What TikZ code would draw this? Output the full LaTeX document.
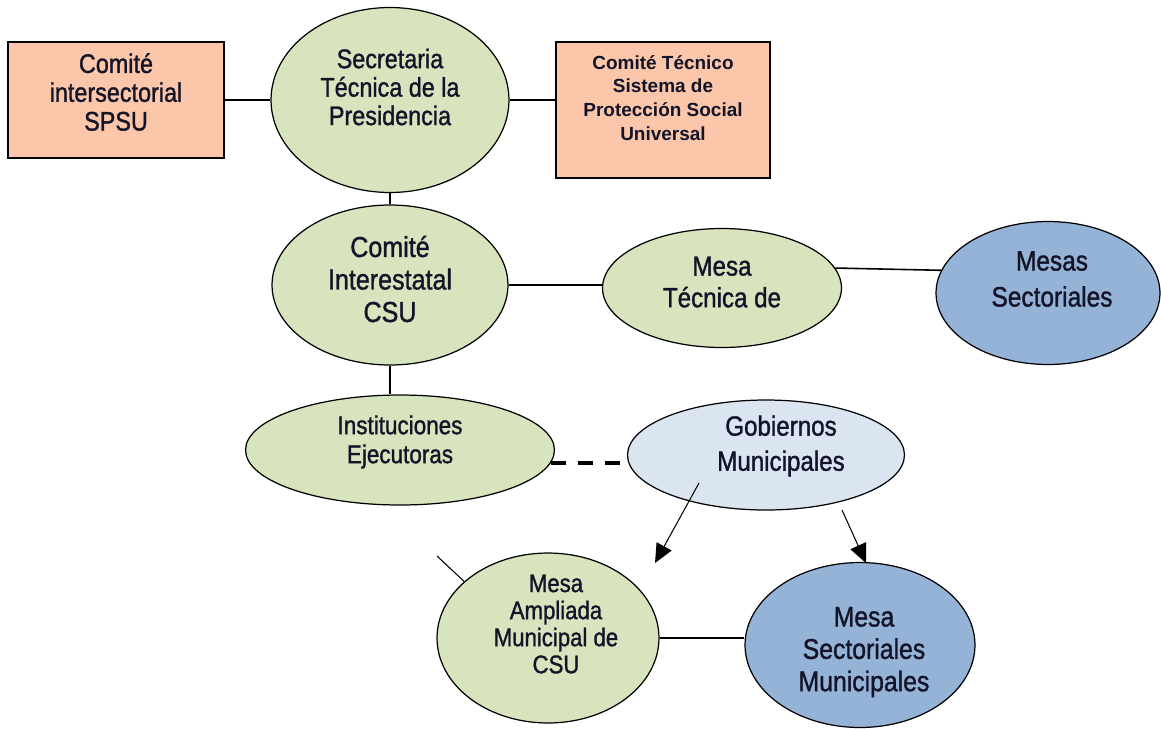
\documentclass[tikz,border=0pt]{standalone}
\usepackage{fontspec}
\setmainfont{Liberation Sans}[FakeStretch=0.87, FakeBold=1.2]
\newfontfamily\boxfont{Liberation Sans}
\usetikzlibrary{positioning}
\usetikzlibrary{shapes.geometric}
\usetikzlibrary{arrows.meta}
\definecolor{grnfill}{RGB}{215,228,189}
\definecolor{salfill}{RGB}{251,198,170}
\definecolor{bluefill}{RGB}{149,179,215}
\definecolor{palefill}{RGB}{219,229,241}
\definecolor{txtcol}{RGB}{20,20,40}

\begin{document}
\begin{tikzpicture}[x=0.02cm,y=-0.02cm,
    ell/.style={ellipse, draw, line width=0.7pt, inner sep=0pt},
    box/.style={rectangle, draw, line width=0.9pt, fill=salfill},
    lbl/.style={align=center, text=txtcol, inner sep=0pt},
    con/.style={line width=0.9pt}]
        \useasboundingbox (0,0) rectangle (1161,728);
        % nodes %
        \node[box, minimum width=4.32cm, minimum height=2.32cm] (csi) at (116,100) {};
        \node[ell, fill=grnfill, minimum width=4.76cm, minimum height=3.7cm] (sec) at (390,100) {};
        \node[box, minimum width=4.28cm, minimum height=2.72cm] (ctp) at (663,110) {};
        \node[ell, fill=grnfill, minimum width=4.72cm, minimum height=3.2cm] (cis) at (390,285) {};
        \node[ell, fill=grnfill, minimum width=4.78cm, minimum height=2.38cm] (mtec) at (722,288) {};
        \node[ell, fill=bluefill, minimum width=4.48cm, minimum height=2.86cm] (mss) at (1048,293) {};
        \node[ell, fill=grnfill, minimum width=6.18cm, minimum height=2.2cm] (inst) at (400,450) {};
        \node[ell, fill=palefill, minimum width=5.54cm, minimum height=2.2cm] (gob) at (766,455) {};
        \node[ell, fill=grnfill, minimum width=4.44cm, minimum height=3.4cm] (amp) at (548,638) {};
        \node[ell, fill=bluefill, minimum width=4.6cm, minimum height=3.3cm] (msm) at (860,645) {};
        % texts %
        \node[lbl, font=\fontsize{15.3}{16.4}\selectfont] (csi-t) at (116,92) {Comité\\intersectorial\\SPSU};
        \node[lbl, font=\fontsize{15.3}{16.2}\selectfont] (sec-t) at (390,87) {Secretaria\\Técnica de la\\Presidencia};
        \node[lbl, font=\boxfont\fontsize{10.8}{13.6}\selectfont\bfseries] (ctp-t) at (663,98) {Comité Técnico\\Sistema de\\Protección Social\\Universal};
        \node[lbl, font=\fontsize{16.4}{18.5}\selectfont] (cis-t) at (390,279) {Comité\\Interestatal\\CSU};
        \node[lbl, font=\fontsize{15.8}{18}\selectfont] (mtec-t) at (722,282) {Mesa\\Técnica de};
        \node[lbl, font=\fontsize{16}{20.5}\selectfont] (mss-t) at (1052,279) {Mesas\\Sectoriales};
        \node[lbl, font=\fontsize{14.7}{16.5}\selectfont] (inst-t) at (400,442) {Instituciones\\Ejecutoras};
        \node[lbl, font=\fontsize{15.8}{20}\selectfont] (gob-t) at (781,446) {Gobiernos\\Municipales};
        \node[lbl, font=\fontsize{14.5}{15.4}\selectfont] (amp-t) at (556,624) {Mesa\\Ampliada\\Municipal de\\CSU};
        \node[lbl, font=\fontsize{16.2}{18.4}\selectfont] (msm-t) at (864,652) {Mesa\\Sectoriales\\Municipales};
        % free ends %
        \coordinate (a1s) at (699,483);
        \coordinate (a1e) at (655,563);
        \coordinate (a2s) at (842,510);
        \coordinate (a2e) at (866,563);
        \coordinate (stub) at (437,556);
        % edges %
        \draw[con] (csi) -- (sec);
        \draw[con] (sec.east) -- (sec.east -| ctp.west);
        \draw[con] (sec.south) -- (cis.north);
        \draw[con] (cis) -- (cis -| mtec.west);
        \draw[con] (mtec.10) -- (mss.168);
        \draw[con] (cis.south) -- (cis.south |- inst.north);
        \draw[line width=2.4pt, dash pattern=on 0.3cm off 0.24cm] (inst.-5) -- (inst.-5 -| gob.west);
        \draw[line width=0.6pt, -{Triangle[length=0.38cm, width=0.34cm]}] (a1s) -- (a1e);
        \draw[line width=0.6pt, -{Triangle[length=0.38cm, width=0.34cm]}] (a2s) -- (a2e);
        \draw[line width=0.6pt] (stub) -- (amp.146);
        \draw[con] (amp) -- (amp -| msm.west);
\end{tikzpicture}
\end{document}
